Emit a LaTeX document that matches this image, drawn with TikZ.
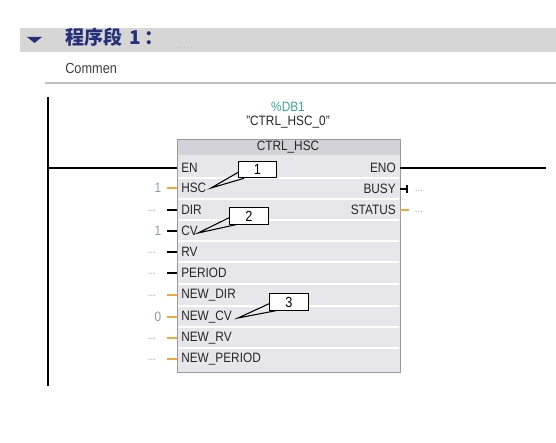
\documentclass[tikz,border=0pt]{standalone}
\usepackage{fontspec}
\setmainfont{Liberation Sans}[FakeStretch=0.87]
\newfontfamily\cjkfont{Noto Sans CJK SC}
\definecolor{band}{HTML}{D6D6D6}
\definecolor{navy}{HTML}{25307A}
\definecolor{boxfill}{HTML}{E7E7EB}
\definecolor{titlefill}{HTML}{D2D2D8}
\definecolor{boxline}{HTML}{9A9AA2}
\definecolor{pinor}{HTML}{F0A838}
\definecolor{valc}{HTML}{8A9AB0}
\definecolor{dotc}{HTML}{A8A8A8}
\definecolor{teal}{HTML}{3AA898}
\begin{document}
\begin{tikzpicture}[x=0.75pt,y=-0.75pt,
  pin/.style={font=\fontsize{10.2}{11}\selectfont, inner sep=0pt, text=black!85},
  val/.style={font=\fontsize{10.2}{11}\selectfont, inner sep=0pt, text=valc},
  dots/.style={font=\fontsize{8.5}{10}\selectfont, inner sep=0pt, text=dotc},
  stubb/.style={line width=1.2pt, black},
  stubo/.style={line width=1.2pt, pinor},
  callout/.style={draw=black, fill=white, line width=0.6pt, minimum width=29pt, minimum height=12.5pt, inner sep=0pt, font=\fontsize{11}{12}\selectfont},
  leader/.style={line width=0.8pt, black}]
\useasboundingbox (0,0) rectangle (556,442);
\fill[white] (0,0) rectangle (556,442);
% header band
\fill[band] (20,28) rectangle (556,52);
\fill[navy] (27,37) -- (42,37) -- (34.5,43) -- cycle;
\node[anchor=west, inner sep=0pt, text=navy, font=\cjkfont\bfseries\fontsize{14.3}{16}\selectfont] (title) at (65,37) {程序段\hspace{5pt}1\hspace{3pt}：};
\draw[dotc!70, dotted, line width=0.6pt] (177,47) -- (193,47);
% comment field
\fill[white] (61,53) rectangle (556,82);
\node[anchor=west, inner sep=0pt, text=black!75, font=\fontsize{11}{12}\selectfont] (comment) at (65,68) {Commen};
\draw[black!25, line width=0.8pt] (45,83) -- (556,83);
% power rail and rung
\coordinate (railtop) at (48,97);
\coordinate (railbot) at (48,386);
\draw[line width=1.5pt] (railtop) -- (railbot);
% block
\node[teal, font=\fontsize{10.2}{11}\selectfont, inner sep=0pt] (db) at (288,107) {\%DB1};
\node[font=\fontsize{10.2}{11}\selectfont, inner sep=0pt, text=black!85] (inst) at (288,122) {"CTRL\_HSC\_0"};
\draw[boxline, fill=boxfill, line width=0.7pt] (177,139) rectangle (400,372);
\fill[titlefill] (177.4,139.4) rectangle (399.6,155);
\draw[boxline, line width=0.7pt] (177,139) rectangle (400,372);
\node[pin] (blk) at (288,147) {CTRL\_HSC};
\coordinate (blkL) at (177,168);
\coordinate (blkR) at (400,168);
\draw[line width=1.5pt] (48,168) -- (blkL);
\coordinate (enoEnd) at (546,168);
\draw[line width=1.5pt] (blkR) -- (enoEnd);
% row separators
\foreach \y in {178,199,220,241,262,284,306,327,348} {
  \draw[white, line width=0.8pt] (178,\y) -- (399,\y);
}
% left pins
\node[pin, anchor=west] (en) at (181,168) {EN};
\foreach \nm/\lab/\y/\col in {
  hsc/HSC/188/o, dir/DIR/210/b, cv/CV/231/b, rv/RV/252/b,
  per/PERIOD/273/b, ndir/NEW\_DIR/295/o, ncv/NEW\_CV/317/o,
  nrv/NEW\_RV/338/o, nper/NEW\_PERIOD/359/o} {
  \node[pin, anchor=west] (\nm) at (181,\y) {\lab};
  \if\col o
    \draw[stubo] (167,\y) -- (177,\y);
  \else
    \draw[stubb] (167,\y) -- (177,\y);
  \fi
}
\node[val] (vhsc) at (158,188) {1};
\node[dots] (vdir) at (152,211) {...};
\node[val] (vcv) at (158,231) {1};
\node[dots] (vrv) at (152,253) {...};
\node[dots] (vper) at (152,274) {...};
\node[dots] (vndir) at (152,296) {...};
\node[val] (vncv) at (158,317) {0};
\node[dots] (vnrv) at (152,339) {...};
\node[dots] (vnper) at (152,360) {...};
% right pins
\node[pin, anchor=east] (eno) at (396,168) {ENO};
\node[pin, anchor=east] (busy) at (396,189) {BUSY};
\node[pin, anchor=east] (status) at (396,210) {STATUS};
\draw[stubb] (400,189) -- (407,189);
\draw[line width=1.5pt] (407,185) -- (407,193);
\node[dots] (vbusy) at (419,191) {...};
\draw[stubo] (400,210) -- (409,210);
\node[dots] (vstatus) at (419,212) {...};
% callouts
\node[callout] (c1) at (257.5,169.5) {1};
\coordinate (p1) at (211,188);
\draw[leader] ([xshift=0.5pt,yshift=-2pt]c1.west) -- (p1) -- ([xshift=-10pt]c1.south);
\node[callout] (c2) at (249,216) {2};
\coordinate (p2) at (198,233);
\draw[leader] ([xshift=0.5pt,yshift=-1pt]c2.west) -- (p2) -- ([xshift=-10pt]c2.south);
\node[callout] (c3) at (289,302) {3};
\coordinate (p3) at (238,318);
\draw[leader] ([xshift=0.5pt,yshift=-1pt]c3.west) -- (p3) -- ([xshift=-10pt]c3.south);
\end{tikzpicture}
\end{document}
